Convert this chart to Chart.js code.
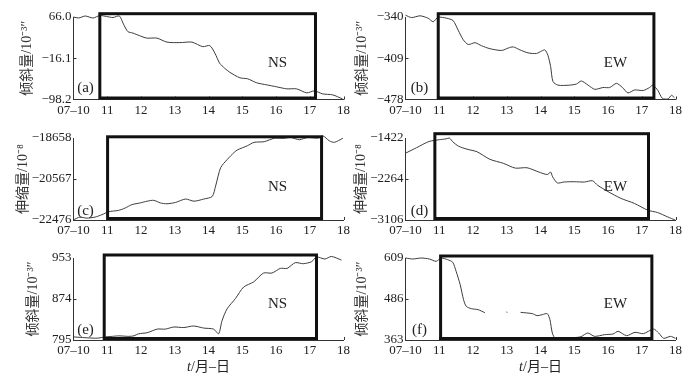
<!DOCTYPE html>
<html>
<head>
<meta charset="utf-8">
<script src="https://cdn.jsdelivr.net/npm/chart.js@4.4.1/dist/chart.umd.min.js"></script>
<style>
  html, body { margin: 0; padding: 0; background: #fff; }
  body { position: relative; width: 694px; height: 378px; overflow: hidden; }
  canvas { position: absolute; }
</style>
</head>
<body>
<canvas id="chartA"></canvas>
<canvas id="chartC"></canvas>
<canvas id="chartE"></canvas>
<canvas id="chartB"></canvas>
<canvas id="chartD"></canvas>
<canvas id="chartF"></canvas>
<script>
// x axis: days of July (10 = 07-10)
const xTickDays = [10, 11, 12, 13, 14, 15, 16, 17, 18];
const xTickLabels = ['07–10', '11', '12', '13', '14', '15', '16', '17', '18'];

// (a) tilt NS
const daysA = [10.0, 10.15, 10.35, 10.58, 10.78, 10.98, 11.17, 11.36, 11.48, 11.61, 11.76, 11.95, 12.17, 12.47, 12.77, 13.15, 13.51, 13.83, 14.04, 14.19, 14.33, 14.48, 14.63, 14.93, 15.16, 15.43, 15.72, 16.02, 16.32, 16.61, 16.91, 17.14, 17.38, 17.68, 17.97];
const tiltNS1 = [66, 64, 68, 64, 69, 67, 65, 68, 52, 37, 34, 29, 24, 24, 16, 15, 16, 7, 9, -6, -26, -36, -44, -55, -57, -65, -69, -73, -77, -77, -85, -81, -87, -89, -97];
const yTicksA = [-98.2, -16.1, 66.0];
const yLabelsA = ['−98.2', '−16.1', '66.0'];

// (b) tilt EW
const daysB = [10.0, 10.18, 10.43, 10.67, 10.82, 10.97, 11.22, 11.41, 11.56, 11.71, 11.86, 12.06, 12.25, 12.5, 12.85, 13.04, 13.19, 13.39, 13.63, 13.88, 14.03, 14.13, 14.22, 14.3, 14.37, 14.52, 14.86, 15.07, 15.21, 15.41, 15.61, 15.85, 16.05, 16.25, 16.43, 16.59, 16.79, 17.04, 17.23, 17.33, 17.48, 17.61, 17.78, 17.88, 17.97];
const tiltEW1 = [-337, -341, -338, -342, -348, -340, -342, -346, -362, -378, -386, -383, -388, -393, -396, -392, -390, -395, -400, -401, -397, -395, -404, -423, -448, -454, -454, -452, -447, -454, -461, -458, -458, -451, -458, -467, -462, -463, -458, -454, -463, -476, -477, -471, -475];
const yTicksB = [-478, -409, -340];
const yLabelsB = ['−478', '−409', '−340'];

// (c) strain NS
const daysC = [10.0, 10.19, 10.39, 10.64, 10.84, 11.04, 11.33, 11.53, 11.73, 11.98, 12.18, 12.38, 12.57, 12.77, 13.02, 13.32, 13.57, 13.86, 14.11, 14.21, 14.36, 14.56, 14.76, 14.86, 15.15, 15.35, 15.65, 15.95, 16.24, 16.44, 16.69, 16.94, 17.24, 17.39, 17.58, 17.73, 17.98];
const strainNS = [-22470, -22340, -22390, -22340, -22230, -22090, -22030, -21920, -21760, -21680, -21600, -21560, -21680, -21720, -21660, -21500, -21600, -21500, -21380, -20900, -20040, -19650, -19330, -19210, -19020, -18860, -18830, -18670, -18670, -18630, -18740, -18630, -18660, -18560, -18790, -18860, -18670];
const yTicksC = [-22476, -20567, -18658];
const yLabelsC = ['−22476', '−20567', '−18658'];

// (d) strain EW
const daysD = [10.0, 10.33, 10.7, 11.0, 11.2, 11.3, 11.4, 11.57, 11.82, 12.12, 12.5, 12.9, 13.25, 13.6, 13.95, 14.2, 14.3, 14.36, 14.5, 14.7, 15.0, 15.3, 15.54, 15.7, 16.0, 16.38, 16.78, 17.18, 17.47, 17.77, 18.0];
const strainEW = [-1734, -1620, -1493, -1457, -1440, -1422, -1500, -1590, -1651, -1705, -1860, -1942, -2040, -2033, -2120, -2172, -2123, -2220, -2345, -2325, -2320, -2326, -2300, -2397, -2522, -2661, -2765, -2905, -2953, -3043, -3110];
const yTicksD = [-3106, -2264, -1422];
const yLabelsD = ['−3106', '−2264', '−1422'];

// (e) tilt NS, second instrument
const daysE = [10.0, 10.21, 10.46, 10.7, 10.95, 11.15, 11.34, 11.64, 11.79, 11.93, 12.18, 12.48, 12.72, 12.97, 13.27, 13.56, 13.86, 14.15, 14.3, 14.4, 14.55, 14.8, 15.04, 15.34, 15.63, 15.88, 16.13, 16.33, 16.57, 16.81, 17.06, 17.2, 17.45, 17.64, 17.94];
const tiltNS2 = [801, 800, 799, 798.5, 801, 802, 803, 802, 803, 807, 809, 816, 816, 820, 819, 822, 818, 816, 807, 832, 855, 875, 897, 907, 924, 924, 933, 933, 944, 942, 946, 955, 951, 956, 949];
const yTicksE = [795, 874, 953];
const yLabelsE = ['795', '874', '953'];

// (f) tilt EW, second instrument (gap in the record)
const daysF = [10.0, 10.22, 10.46, 10.71, 10.91, 11.05, 11.25, 11.4, 11.5, 11.62, 11.72, 11.8, 11.95, 12.15, 12.35, 12.36, 12.99, 13.02, 13.03, 13.41, 13.76, 13.9, 14.05, 14.2, 14.28, 14.35, 14.45, 14.7, 15.0, 15.2, 15.4, 15.6, 15.9, 16.15, 16.3, 16.55, 16.8, 17.05, 17.35, 17.5, 17.65, 17.85, 18.0];
const tiltEW2 = [609, 606, 609, 606, 599, 609, 604, 596, 569, 529, 484, 464, 457, 454, 445, null, 447, 446, null, 446, 442, 436, 439, 442, 424, 384, 366, 367, 370, 373, 384, 374, 379, 381, 389, 376, 386, 382, 396, 384, 368, 374, 368];
const yTicksF = [363, 486, 609];
const yLabelsF = ['363', '486', '609'];

const tiltTitle = '倾斜量/10⁻³″';
const strainTitle = '伸缩量/10⁻⁸';

const serif = "'Liberation Serif', 'Noto Sans CJK SC', serif";

// page layout of the 3x2 grid
const cols = [
    { left: 0, width: 354, chartL: 73.5, chartR: 343.5, tagDx: 204, letterDx: 12 },
    { left: 347, width: 347, chartL: 405.5, chartR: 675.5, tagDx: 210, letterDx: 14 }
];
const rows = [
    { top: 0, height: 121, chartT: 17, chartB: 99.5, tagDy: 46, letterDy: 71 },
    { top: 121, height: 121, chartT: 138, chartB: 220, tagDy: 49, letterDy: 73 },
    { top: 242, height: 136, chartT: 258, chartB: 340, tagDy: 46, letterDy: 72 }
];

const panels = [
    { id: 'chartA', col: 0, row: 0, days: daysA, vals: tiltNS1, yTicks: yTicksA, yLabels: yLabelsA, title: tiltTitle, tag: 'NS', letter: '(a)', box: [10.78, 17.17], lift: 3.3, titleX: 27 },
    { id: 'chartB', col: 1, row: 0, days: daysB, vals: tiltEW1, yTicks: yTicksB, yLabels: yLabelsB, title: tiltTitle, tag: 'EW', letter: '(b)', box: [10.97, 17.36], lift: 3.3, titleX: 362 },
    { id: 'chartC', col: 0, row: 1, days: daysC, vals: strainNS, yTicks: yTicksC, yLabels: yLabelsC, title: strainTitle, tag: 'NS', letter: '(c)', box: [11.01, 17.35], lift: 1.2, titleX: 23 },
    { id: 'chartD', col: 1, row: 1, days: daysD, vals: strainEW, yTicks: yTicksD, yLabels: yLabelsD, title: strainTitle, tag: 'EW', letter: '(d)', box: [10.87, 17.2], lift: 4.3, titleX: 361 },
    { id: 'chartE', col: 0, row: 2, days: daysE, vals: tiltNS2, yTicks: yTicksE, yLabels: yLabelsE, title: tiltTitle, tag: 'NS', letter: '(e)', box: [10.91, 17.2], lift: 3, titleX: 33, xTitle: true },
    { id: 'chartF', col: 1, row: 2, days: daysF, vals: tiltEW2, yTicks: yTicksF, yLabels: yLabelsF, title: tiltTitle, tag: 'EW', letter: '(f)', box: [11.04, 17.3], lift: 2, titleX: 362, xTitle: true }
];

// inward ticks, the black window box, NS/EW tags and the t/月-日 title
const framePlugin = {
    id: 'frame',
    afterDraw(chart, args, opts) {
        const { ctx, chartArea: ca, scales: { x, y } } = chart;
        ctx.save();
        ctx.strokeStyle = '#333';
        ctx.lineWidth = 1;
        ctx.beginPath();
        x.ticks.forEach(t => {
            if (t.value <= x.min) return;
            const px = Math.round(x.getPixelForValue(t.value)) + 0.5;
            ctx.moveTo(px, ca.bottom);
            ctx.lineTo(px, ca.bottom - 3);
        });
        const py = Math.round(y.getPixelForValue(y.ticks[1].value)) + 0.5;
        ctx.moveTo(ca.left, py);
        ctx.lineTo(ca.left + 3, py);
        ctx.stroke();

        // window box
        const x0 = x.getPixelForValue(opts.box[0]);
        const x1 = x.getPixelForValue(opts.box[1]);
        const top = ca.top - opts.lift;
        const bottom = ca.bottom - 1.5;
        ctx.strokeStyle = '#111';
        ctx.lineWidth = 3;
        ctx.strokeRect(x0, top, x1 - x0, bottom - top);

        ctx.fillStyle = '#222';
        ctx.textBaseline = 'middle';
        ctx.textAlign = 'center';
        ctx.font = '15px ' + serif;
        ctx.fillText(opts.tag, ca.left + opts.tagDx, ca.top + opts.tagDy);
        ctx.fillText(opts.letter, ca.left + opts.letterDx, ca.top + opts.letterDy);

        if (opts.xTitle) {
            const italic = 'italic 14px ' + serif;
            const normal = '14px ' + serif;
            ctx.font = italic;
            const w1 = ctx.measureText('t').width;
            ctx.font = normal;
            const w2 = ctx.measureText('/月–日').width;
            let sx = (ca.left + ca.right) / 2 - (w1 + w2) / 2;
            const sy = ca.bottom + 27;
            ctx.textAlign = 'left';
            ctx.font = italic;
            ctx.fillText('t', sx, sy);
            ctx.font = normal;
            ctx.fillText('/月–日', sx + w1, sy);
        }
        ctx.restore();
    }
};

function makeChart(p) {
    const col = cols[p.col];
    const row = rows[p.row];
    const cv = document.getElementById(p.id);
    cv.width = col.width;
    cv.height = row.height;
    cv.style.left = col.left + 'px';
    cv.style.top = row.top + 'px';

    const yW = col.chartL - col.left;
    const xH = row.top + row.height - row.chartB;
    const points = p.days.map((d, i) => ({ x: d, y: p.vals[i] }));

    new Chart(cv.getContext('2d'), {
        type: 'line',
        data: {
            datasets: [{
                data: points,
                borderColor: '#3c3c3c',
                borderWidth: 1,
                pointRadius: 0,
                tension: 0.25,
                spanGaps: false,
                clip: false
            }]
        },
        options: {
            responsive: false,
            animation: false,
            events: [],
            layout: {
                padding: { top: row.chartT - row.top, right: col.left + col.width - col.chartR, left: 0, bottom: 0 }
            },
            plugins: {
                legend: { display: false },
                tooltip: { enabled: false },
                frame: {
                    box: p.box, lift: p.lift, tag: p.tag, letter: p.letter, xTitle: !!p.xTitle,
                    tagDx: col.tagDx, tagDy: row.tagDy, letterDx: col.letterDx, letterDy: row.letterDy
                }
            },
            scales: {
                x: {
                    type: 'linear',
                    min: 10,
                    max: 18,
                    afterBuildTicks: ax => { ax.ticks = xTickDays.map(v => ({ value: v })); },
                    afterFit: s => { s.height = xH; },
                    ticks: {
                        autoSkip: false,
                        maxRotation: 0,
                        padding: 3,
                        color: '#222',
                        font: { family: serif, size: 13 },
                        callback: (v, i) => xTickLabels[i]
                    },
                    grid: { display: true, drawOnChartArea: false, drawTicks: false },
                    border: { display: true, color: '#333', width: 1 }
                },
                y: {
                    type: 'linear',
                    min: p.yTicks[0],
                    max: p.yTicks[2],
                    afterBuildTicks: ax => { ax.ticks = p.yTicks.map(v => ({ value: v })); },
                    afterFit: s => { s.width = yW; },
                    ticks: {
                        autoSkip: false,
                        padding: 2,
                        color: '#222',
                        font: { family: serif, size: 13 },
                        callback: (v, i) => p.yLabels[i]
                    },
                    title: {
                        display: true,
                        text: p.title,
                        color: '#333',
                        font: { family: serif, size: 14 },
                        padding: { top: p.titleX - col.left - 8.4, bottom: 0 }
                    },
                    grid: { display: true, drawOnChartArea: false, drawTicks: false },
                    border: { display: true, color: '#333', width: 1 }
                }
            }
        },
        plugins: [framePlugin]
    });
}

panels.forEach(makeChart);
</script>
</body>
</html>
